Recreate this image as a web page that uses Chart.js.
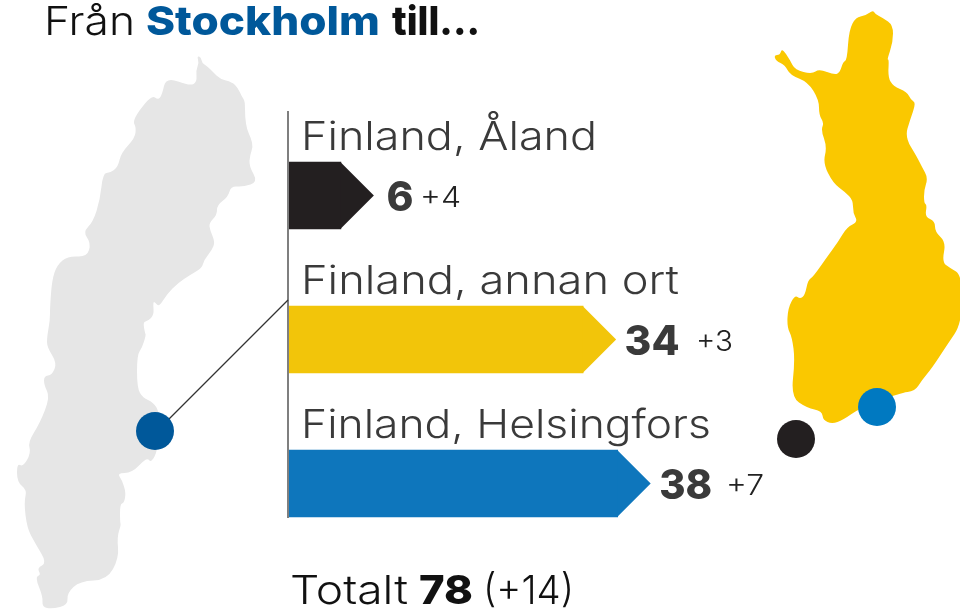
<!DOCTYPE html>
<html>
<head>
<meta charset="utf-8">
<title>Från Stockholm till...</title>
<script src="https://cdn.jsdelivr.net/npm/chart.js@4"></script>
<style>
  html, body { margin:0; padding:0; background:#fff; overflow:hidden; }
  canvas { display:block; }
</style>
</head>
<body>
<canvas id="chart" width="960" height="611"></canvas>
<script>
// data
const categories = ['Finland, Åland', 'Finland, annan ort', 'Finland, Helsingfors'];
const values = [6, 34, 38];
const changes = ['+4', '+3', '+7'];
const totalValue = '78';
const totalChange = '(+14)';

const barColors = ['#231f20', '#f2c50a', '#0e76bc'];
const FONT = 'Inter, "Open Sans", sans-serif';
const TEXT = '#3a3a3a';
const BLACK = '#111';

// map outlines (decoration, page pixels)
const swedenShape = [[197,56],[201,57],[202,63],[207,66],[213,72],[220,79],[232,82],[238,88],[242,97],[245,101],[245,117],[247,130],[251,138],[253,147],[250,155],[249,166],[258,182],[243,187],[231,186],[228,197],[217,205],[217,215],[209,223],[210,230],[215,242],[212,250],[204,260],[202,268],[190,275],[178,283],[167,294],[159,307],[155,302],[153,302],[154,315],[148,321],[143,322],[145,333],[146,335],[142,348],[137,355],[137,388],[143,398],[153,402],[160,413],[158,450],[151,463],[147,457],[132,473],[117,473],[122,480],[126,493],[124,503],[120,504],[120,522],[121,525],[117,537],[119,558],[107,580],[80,581],[67,593],[68,605],[52,609],[42,607],[43,597],[35,577],[41,575],[37,568],[47,563],[35,543],[27,528],[24,502],[27,490],[17,482],[17,463],[23,467],[31,453],[28,442],[40,423],[50,397],[44,385],[44,376],[52,375],[57,363],[47,347],[47,337],[50,320],[50,307],[52,280],[57,265],[68,256],[87,257],[91,243],[83,232],[93,222],[100,200],[103,173],[110,173],[118,167],[121,153],[135,138],[136,127],[133,122],[138,112],[152,95],[158,100],[162,95],[166,77],[190,86],[197,82],[196,70],[199,63]];
const finlandShape = [[873,10],[875,14],[883,18],[893,25],[893,42],[887,60],[889,59],[888,77],[893,86],[907,92],[911,100],[916,103],[910,120],[905,137],[917,157],[922,167],[928,178],[924,190],[924,203],[927,205],[925,217],[935,221],[935,232],[946,242],[942,262],[950,268],[962,275],[962,323],[947,345],[932,368],[922,380],[915,391],[900,393],[860,408],[843,420],[832,424],[823,420],[822,411],[807,408],[791,397],[795,360],[792,337],[787,327],[788,308],[795,295],[800,299],[805,295],[808,280],[813,277],[827,257],[838,242],[847,227],[858,222],[853,213],[853,200],[845,192],[833,183],[823,163],[827,147],[821,130],[824,123],[819,115],[819,100],[808,82],[790,75],[785,65],[776,61],[774,55],[780,55],[782,48],[790,60],[795,70],[812,74],[819,69],[835,75],[840,72],[843,62],[847,60],[849,30],[856,17],[865,16]];

// closed outline, rounded through the midpoints so the coast isnt so jagged
function fillShape(ctx, pts, color){
  const n = pts.length;
  ctx.beginPath();
  ctx.moveTo((pts[n-1][0]+pts[0][0])/2, (pts[n-1][1]+pts[0][1])/2);
  pts.forEach((p,i)=>{
    const q = pts[(i+1)%n];
    ctx.quadraticCurveTo(p[0], p[1], (p[0]+q[0])/2, (p[1]+q[1])/2);
  });
  ctx.closePath();
  ctx.fillStyle = color;
  ctx.fill();
}
function dot(ctx, x, y, color){
  ctx.beginPath();
  ctx.arc(x, y, 19, 0, Math.PI*2);
  ctx.fillStyle = color;
  ctx.fill();
}
// the original face is wider than anything installed, so stretch to its width
function fitText(ctx, text, x, y, width, font, color){
  ctx.save();
  ctx.font = font;
  ctx.fillStyle = color;
  ctx.textAlign = 'left';
  ctx.textBaseline = 'alphabetic';
  const sx = width / ctx.measureText(text).width;
  ctx.translate(x, y);
  ctx.scale(sx, 1);
  ctx.fillText(text, 0, 0);
  ctx.restore();
}

const backdrop = {
  id:'backdrop',
  beforeDatasetsDraw(chart){
    const ctx = chart.ctx;
    ctx.save();
    fillShape(ctx, swedenShape, '#e6e6e6');
    fillShape(ctx, finlandShape, '#fac800');
    // axis line and connector
    ctx.strokeStyle = '#555';
    ctx.lineWidth = 1.5;
    ctx.beginPath();
    ctx.moveTo(288, 111);
    ctx.lineTo(288, 518);
    ctx.stroke();
    ctx.strokeStyle = '#333';
    ctx.lineWidth = 1.2;
    ctx.beginPath();
    ctx.moveTo(155, 433);
    ctx.lineTo(288, 300);
    ctx.stroke();
    dot(ctx, 155, 431, '#00589a');
    dot(ctx, 877, 407, '#0079c1');
    dot(ctx, 796, 439, '#231f20');
    ctx.restore();
  }
};

const arrowsAndText = {
  id:'arrowsAndText',
  afterDatasetsDraw(chart){
    const ctx = chart.ctx;
    const labelWidths = [296, 378, 410];
    const valueGaps = [12, 8, 8];
    const valueWidths = [27, 55, 53];
    const changeX = [420, 696, 726];
    const changeWidths = [41, 37, 38];
    chart.getDatasetMeta(0).data.forEach((bar,i)=>{
      const half = bar.height/2;
      // arrow head on the end of the bar
      ctx.beginPath();
      ctx.moveTo(bar.x-0.5, bar.y-half);
      ctx.lineTo(bar.x+half-0.5, bar.y);
      ctx.lineTo(bar.x-0.5, bar.y+half);
      ctx.closePath();
      ctx.fillStyle = barColors[i];
      ctx.fill();
      const tip = bar.x + half;
      fitText(ctx, categories[i], 301, bar.y-46, labelWidths[i], '300 39px '+FONT, TEXT);
      fitText(ctx, String(values[i]), tip+valueGaps[i], bar.y+15, valueWidths[i], '800 41px '+FONT, TEXT);
      fitText(ctx, changes[i], changeX[i], bar.y+11, changeWidths[i], '300 28px '+FONT, '#222');
    });
    // heading
    fitText(ctx, 'Från', 44, 35, 91, '300 40px '+FONT, BLACK);
    fitText(ctx, 'Stockholm', 146, 35, 234, '800 40px '+FONT, '#00589a');
    fitText(ctx, 'till...', 392, 35, 88, '800 40px '+FONT, BLACK);
    // total
    fitText(ctx, 'Totalt', 290, 604, 118, '300 40px '+FONT, BLACK);
    fitText(ctx, totalValue, 419, 604, 54, '800 40px '+FONT, BLACK);
    fitText(ctx, totalChange, 483, 604, 91, '300 40px '+FONT, BLACK);
  }
};

new Chart(document.getElementById('chart').getContext('2d'), {
  type:'bar',
  data:{
    labels:categories,
    datasets:[{data:values, backgroundColor:barColors, barThickness:67, borderWidth:0}]
  },
  options:{
    indexAxis:'y',
    responsive:false,
    animation:false,
    events:[],
    layout:{padding:{left:289, right:152, top:123.5, bottom:55.5}},
    plugins:{legend:{display:false}, title:{display:false}, tooltip:{enabled:false}},
    scales:{
      x:{display:false, min:0, max:60},
      y:{display:false}
    }
  },
  plugins:[backdrop, arrowsAndText]
});
</script>
</body>
</html>
